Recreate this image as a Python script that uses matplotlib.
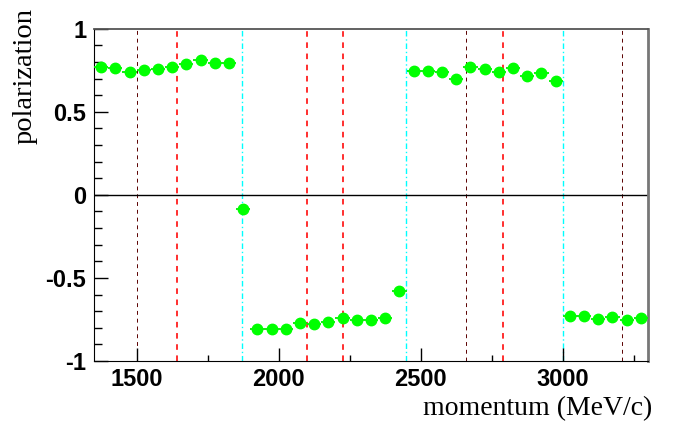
import numpy as np
import matplotlib
matplotlib.use('Agg')
import matplotlib.pyplot as plt
from matplotlib.ticker import MultipleLocator

# momentum bin centres (MeV/c) and measured polarization
momentum = [1375, 1425, 1475, 1525, 1575, 1625, 1675, 1725, 1775, 1825,
            1875,
            1925, 1975, 2025, 2075, 2125, 2175, 2225, 2275, 2325, 2375,
            2425,
            2475, 2525, 2575, 2625, 2675, 2725, 2775, 2825, 2875, 2925, 2975,
            3025, 3075, 3125, 3175, 3225, 3275]
polar = [0.77, 0.765, 0.74, 0.75, 0.757, 0.767, 0.787, 0.813, 0.793, 0.795,
         -0.087,
         -0.806, -0.806, -0.806, -0.77, -0.779, -0.765, -0.741, -0.751, -0.751, -0.741,
         -0.577,
         0.747, 0.747, 0.737, 0.699, 0.769, 0.759, 0.741, 0.761, 0.713, 0.733, 0.683,
         -0.731, -0.731, -0.749, -0.737, -0.752, -0.743]
bin_half = 25

# marker lines
red_lines = [1641, 2101, 2228, 2790]
dark_lines = [1500, 2659, 3210]
cyan_lines = [1871, 2447, 3002]

plt.rcParams['font.family'] = ['Liberation Sans', 'DejaVu Sans']

fig = plt.figure(figsize=(6.74, 4.28), dpi=100)
ax = fig.add_axes([94 / 674, 67 / 428, 554 / 674, 332.3 / 428])

for xv in red_lines:
    ax.axvline(xv, color='#ff0000', lw=1.15, ls=(0, (3.5, 3.5)), zorder=1)
for xv in dark_lines:
    ax.axvline(xv, color='#5a0000', lw=0.7, ls=(0, (4, 4)), zorder=1)
for xv in cyan_lines:
    ax.axvline(xv, color='#00ffff', lw=1.0, ls=(0, (4, 2, 1, 2)), zorder=1)

ax.axhline(0, color='black', lw=1.0, zorder=2)

ax.errorbar(momentum, polar, xerr=bin_half, fmt='o', color='#00ee00',
            mfc='#00ff00', mec='#00ff00', ms=7.5, elinewidth=1.3, capsize=0, zorder=3)

ax.set_xlim(1350, 3300)
ax.set_ylim(-1, 1)

ax.xaxis.set_major_locator(MultipleLocator(500))
ax.xaxis.set_minor_locator(MultipleLocator(250))
ax.yaxis.set_major_locator(MultipleLocator(0.5))
ax.yaxis.set_minor_locator(MultipleLocator(0.1))
ax.tick_params(which='both', direction='in', top=False, right=False)
ax.tick_params(axis='x', which='major', length=9.5, width=1, pad=5, labelsize=17)
ax.tick_params(axis='x', which='minor', length=4.5, width=1)
ax.tick_params(axis='y', which='major', length=10, width=1, pad=5.5, labelsize=17)
ax.tick_params(axis='y', which='minor', length=5.5, width=1)
for lab in ax.get_xticklabels():
    lab.set_fontweight('bold')
ax.set_yticks([-1, -0.5, 0, 0.5, 1])
ax.set_yticklabels(['-1', '-0.5', '0', '0.5', '1'], fontweight='bold')

ax.spines['left'].set_color('black')
ax.spines['bottom'].set_color('black')
ax.spines['top'].set_color('#555555')
ax.spines['right'].set_color('#777777')
ax.spines['top'].set_linewidth(1.3)
ax.spines['right'].set_linewidth(2.0)

fig.text(652 / 674, 1 - 409 / 428, 'momentum (MeV/c)', ha='right', va='center',
         family='Liberation Serif', fontsize=20)
fig.text(25 / 674, 1 - 8 / 428, 'polarization', ha='center', va='top', rotation=90,
         family='Liberation Serif', fontsize=20.5)

fig.savefig('out.png', dpi=100)
